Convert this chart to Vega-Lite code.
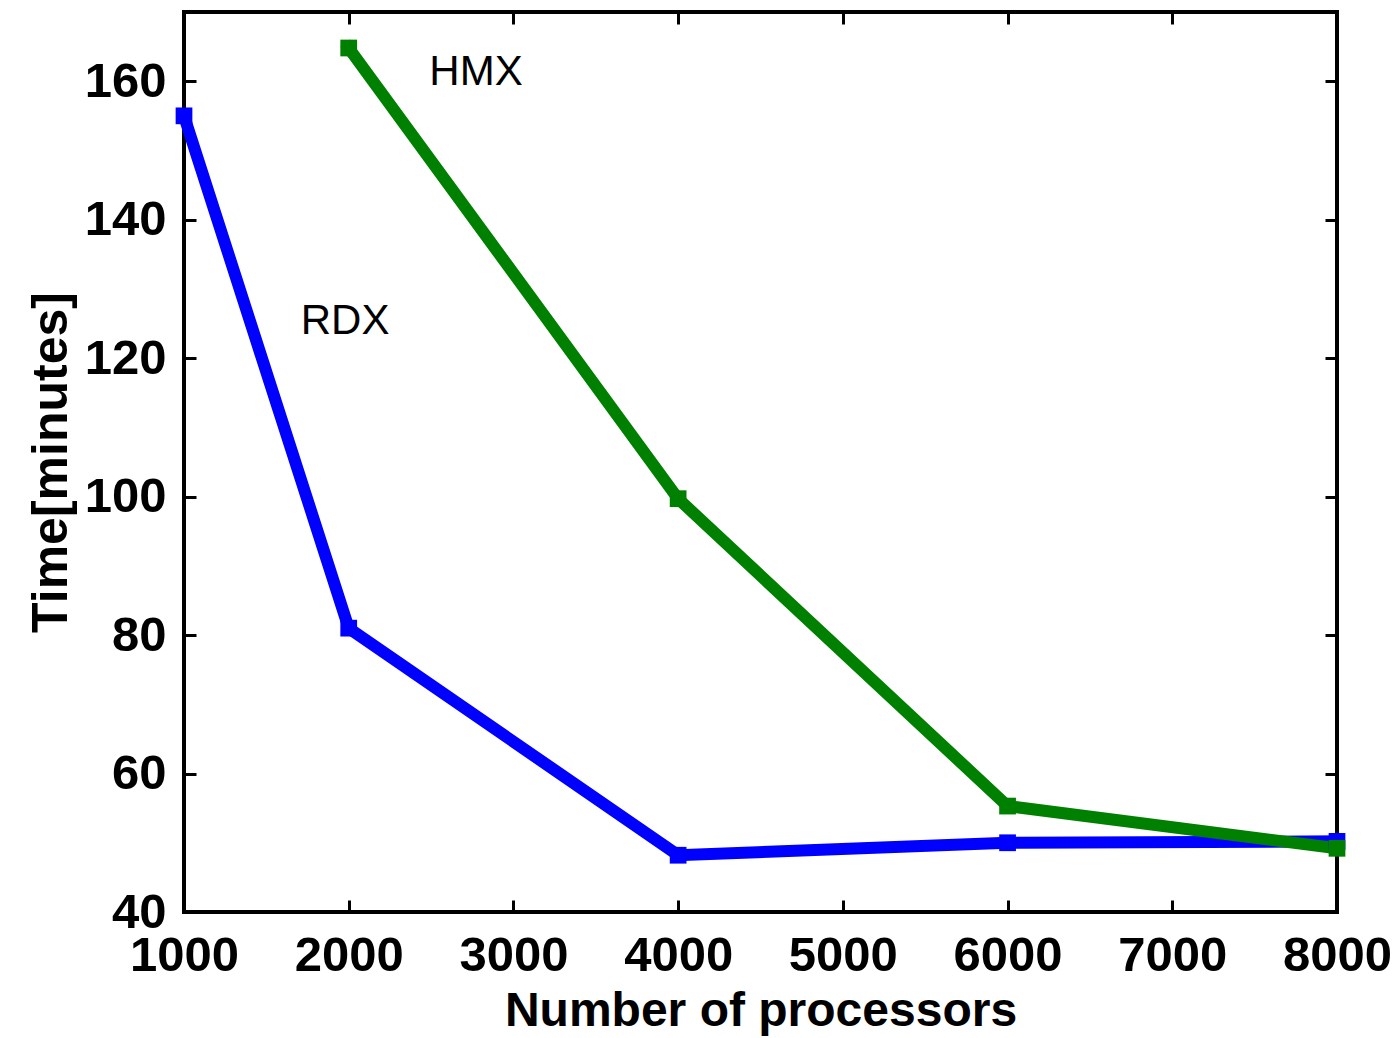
{
  "$schema": "https://vega.github.io/schema/vega-lite/v6.json",
  "autosize": "none",
  "width": 1153,
  "height": 900,
  "padding": {"left": 184, "top": 12, "right": 63, "bottom": 126},
  "background": "white",
  "config": {
    "view": {"stroke": "black", "strokeWidth": 4},
    "font": "Liberation Sans",
    "axis": {"grid": false, "domain": false, "tickColor": "black", "tickWidth": 3, "tickSize": -12, "labelColor": "black", "titleColor": "black", "labelFont": "Liberation Sans", "titleFont": "Liberation Sans", "labelFlush": false, "labelOverlap": false}
  },
  "datasets": {
    "series": [
      {"procs": 1000, "time": 155, "material": "RDX"},
      {"procs": 2000, "time": 81, "material": "RDX"},
      {"procs": 4000, "time": 48.2, "material": "RDX"},
      {"procs": 6000, "time": 50, "material": "RDX"},
      {"procs": 8000, "time": 50.2, "material": "RDX"},
      {"procs": 2000, "time": 164.8, "material": "HMX"},
      {"procs": 4000, "time": 99.7, "material": "HMX"},
      {"procs": 6000, "time": 55.3, "material": "HMX"},
      {"procs": 8000, "time": 49.2, "material": "HMX"}
    ],
    "labels": [
      {"procs": 2773, "time": 161.4, "name": "HMX"},
      {"procs": 1978, "time": 125.4, "name": "RDX"}
    ]
  },
  "layer": [
    {
      "data": {"name": "series"},
      "mark": {"type": "line", "strokeWidth": 12, "strokeJoin": "miter", "strokeCap": "square", "point": {"shape": "square", "size": 280, "filled": true}},
      "encoding": {
        "x": {"field": "procs", "type": "quantitative", "scale": {"domain": [1000, 8000], "nice": false, "zero": false},
          "axis": {"orient": "bottom", "title": "Number of processors", "values": [1000, 2000, 3000, 4000, 5000, 6000, 7000, 8000], "format": "d", "labelFontSize": 49, "labelFontWeight": "bold", "labelPadding": 31, "titleFontSize": 48, "titleFontWeight": "bold", "titlePadding": 7}},
        "y": {"field": "time", "type": "quantitative", "scale": {"domain": [40, 170], "nice": false, "zero": false},
          "axis": {"orient": "left", "title": "Time[minutes]", "values": [40, 60, 80, 100, 120, 140, 160], "labelFontSize": 49, "labelFontWeight": "bold", "labelPadding": 30, "titleFontSize": 50, "titleFontWeight": "bold", "titlePadding": 8}},
        "color": {"field": "material", "type": "nominal", "scale": {"domain": ["RDX", "HMX"], "range": ["#0000ff", "#008000"]}, "legend": null},
        "order": {"field": "procs", "type": "quantitative"}
      }
    },
    {
      "data": {"name": "labels"},
      "mark": {"type": "text", "fontSize": 42, "color": "black", "align": "center", "baseline": "middle", "font": "Liberation Sans"},
      "encoding": {
        "x": {"field": "procs", "type": "quantitative", "axis": {"orient": "top", "labels": false, "title": null, "values": [1000, 2000, 3000, 4000, 5000, 6000, 7000, 8000]}},
        "y": {"field": "time", "type": "quantitative", "axis": {"orient": "right", "labels": false, "title": null, "values": [40, 60, 80, 100, 120, 140, 160]}},
        "text": {"field": "name"}
      }
    }
  ]
}
